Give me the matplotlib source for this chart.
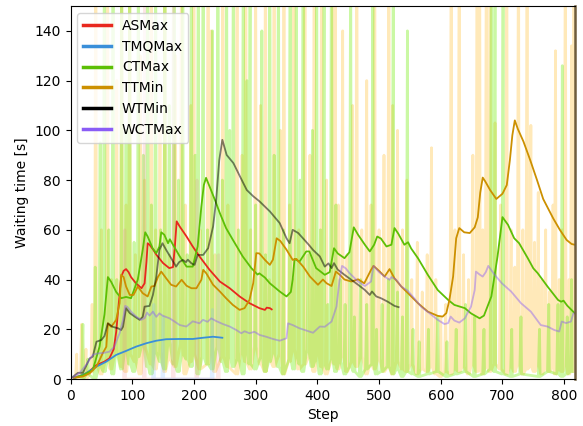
import numpy as np
import matplotlib
matplotlib.use("Agg")
import matplotlib.pyplot as plt
from matplotlib.lines import Line2D

# smoothed curves
as_x = [5, 20, 30, 42, 55, 63, 70, 74, 78, 82, 86, 90, 94, 98, 106, 115, 120, 123, 125, 128, 134, 139,
        150, 160, 166, 169, 172, 177, 188, 198, 209, 225, 242, 258, 274, 290, 306, 315, 318, 323, 326]
as_y = [0.5, 1.5, 3, 5.6, 7, 8.3, 12, 19, 30, 41, 43.5, 44.2, 43, 41, 38.5, 36.5, 38.5, 47, 54.6, 54, 52, 50,
        46.6, 44.6, 45, 53, 63.4, 61.3, 57.3, 53.3, 49.3, 44, 39.2, 36.5, 33.2, 30.5, 28.5, 27.8, 28.7, 28.5, 28]

tmq_x = [6, 15, 25, 42, 58, 74, 90, 106, 123, 139, 155, 177, 198, 215, 231, 246]
tmq_y = [0.3, 1.2, 2.3, 5, 7, 9.7, 11.3, 13, 14.4, 15.4, 16, 16.1, 16.1, 16.6, 17, 16.6]

ct_x = [5, 20, 36, 47, 55, 60.5, 66, 74, 82, 90, 98, 109, 117, 121, 125, 133, 139, 144, 147, 152, 158, 161,
        166, 177, 188, 198, 206, 212, 216, 219.6, 226, 234, 242, 252, 263, 279, 293, 303, 306, 315, 323, 339,
        350, 357, 360, 363, 371, 382, 387, 398, 412, 420, 427, 433, 444, 452, 459, 466, 477, 485, 492, 497,
        503, 512, 520, 525, 531, 541, 547, 552, 563, 579, 595, 612, 622, 639, 649, 663, 670, 682, 692, 700,
        709, 719, 727, 741, 750, 757, 773, 790, 795, 799, 805, 817]
ct_y = [0.5, 1.5, 3.6, 13, 26, 41, 39, 35, 32.5, 33, 32.5, 40, 52, 59, 57.3, 52.6, 50.6, 53.3, 59, 58, 54.6, 56.2,
        54, 49.3, 45.2, 45.2, 53.3, 69.4, 78, 80.9, 77, 72, 66.7, 60.7, 56, 49.3, 44.6, 42, 42.5, 40.8, 38.5, 35.2,
        33.2, 35, 40, 48.3, 47.2, 51.3, 51.3, 44.6, 41.9, 43, 52.6, 50.5, 48.6, 51, 61, 58, 54, 51.3, 54, 57.3,
        56.5, 53.3, 54, 60.7, 58.5, 54, 55, 52.5, 48.6, 41.9, 35.8, 31.8, 29.8, 28.5, 26.4, 24.4, 25.5, 33.2, 49.3, 65.1,
        62, 56.6, 54.6, 48.6, 44.5, 42.6, 37.2, 31.8, 31.1, 31.5, 29.5, 26.5]

tt_x = [5, 20, 31, 42, 52, 58, 60.5, 66, 74, 79.5, 82, 86, 90, 96, 102, 109, 117, 125, 131, 136, 142, 147,
        155, 163, 171, 180, 188, 196, 204, 212, 215, 220, 231, 242, 252, 263, 274, 282, 290, 296, 301, 306,
        315, 323, 328, 334, 340, 350, 360, 366, 377, 388, 401, 409, 415, 423, 430, 436, 444, 455, 466, 476,
        487, 491, 500, 509, 517, 525, 536, 547, 563, 579, 595, 603, 609, 614, 620, 625, 630, 638, 647, 655,
        660, 664, 668, 672, 680, 690, 700, 707, 712, 716, 720, 725, 734, 745, 756, 766, 782, 793, 804, 812, 817]
tt_y = [0.5, 1, 2.3, 5, 10.3, 13, 22.4, 21, 23.8, 30.5, 41.9, 41, 37.2, 33.8, 33.8, 37.2, 34.5, 33.2, 37.2, 37.4, 41.2, 43.2,
        40.5, 37.9, 37.2, 39.9, 37.5, 36.5, 36.5, 39.9, 43.9, 42.5, 37.9, 35.2, 32.5, 29.8, 27.8, 28.5, 31.8, 38.5, 50.6, 50.5,
        47.9, 45.9, 48, 56.6, 55.5, 52, 47.9, 48.3, 45.2, 41.2, 37.9, 40, 38.5, 37.4, 43.2, 42, 40, 39.2, 40.1, 38.5,
        43.9, 45.5, 43.5, 41.2, 44.2, 40.5, 37.2, 34.5, 30.5, 27.1, 25.4, 25.1, 26.5, 31.8, 41.2, 56.6, 60.7, 59, 58.7, 61,
        65, 75, 81, 79.5, 76, 72.4, 74.5, 78, 88, 98, 104, 100.5, 95.5, 88, 80, 72.4, 64.7, 60, 55.9, 54.3, 54]

wt_x = [3.8, 12, 20, 31, 36, 42, 50, 55, 60.5, 68, 77, 82, 85, 90, 96, 104, 112, 117, 120, 128, 133.5, 139,
        144, 149, 155, 163, 171, 176, 182, 187, 190, 196, 201, 206, 215, 223, 231, 236, 241, 246, 253, 264,
        274.7, 285.6, 296, 306, 323, 339, 350, 355, 360, 369, 377, 386, 393, 404, 412, 418, 423, 427, 433,
        444, 455, 466, 477, 485, 488.5, 495.5, 503, 514, 525, 531.7]
wt_y = [0.9, 2.5, 2.5, 8.3, 9, 15, 15.7, 17.3, 22.4, 21, 20.4, 19.7, 21, 28.5, 26.5, 25.1, 23.8, 25, 29.1, 29.4, 33.8, 41.2,
        51.9, 54.6, 51.9, 48.6, 45.2, 47, 47.9, 47, 48, 46.5, 45.9, 49.9, 49.9, 52.6, 61.3, 72, 88, 96.2, 90.1, 86.8,
        81.4, 76, 73.5, 71.5, 67.4, 62.7, 56.6, 54.6, 60, 58.7, 56.5, 54, 51.9, 49.3, 45.2, 46.5, 44.6, 46.6, 44,
        41.9, 39.9, 37.9, 35.8, 33.8, 35.2, 33.2, 32.5, 31.1, 29.4, 28.9]

wct_x = [4, 15, 25, 36, 44, 54, 63, 71, 79.5, 85, 88.6, 92, 98, 106.5, 114.6, 120, 124, 128, 133.5, 139, 144, 149,
         160.5, 168.6, 177, 187.6, 195.7, 198, 209, 214.6, 222, 228, 236, 247, 258, 268.6, 276.8, 282, 290, 298,
         306.5, 317, 328, 339, 350, 352.4, 360, 371, 382, 393, 404, 412, 423, 431, 436, 440, 446, 452, 466, 477,
         487, 491, 500, 509, 517, 520, 528, 536, 546, 557, 568, 585, 595, 606, 612, 616, 622, 630, 639, 649, 655,
         657, 663, 668, 673, 677, 687, 699, 714, 730, 746, 762, 773, 784, 792, 796, 803, 811, 815, 817]
wct_y = [0.5, 2.5, 5.6, 9.7, 10.3, 10.5, 11, 13, 18.4, 23.8, 29.4, 29, 27.1, 25.1, 23.8, 24.5, 26.7, 25.5, 27.1, 25, 26.4, 25.5,
         24.4, 23.1, 21.7, 21.1, 22.7, 23.2, 22.4, 23.8, 23, 24.4, 23.3, 22.1, 21.1, 19.7, 18.4, 19.2, 18.4, 19,
         17.7, 17, 16.1, 15.4, 16.4, 22.4, 21.7, 20.4, 19.5, 18.6, 21.1, 21, 23.1, 29.1, 39.9, 45.5, 44.5, 42.6, 39.2, 37.4,
         39.2, 45.5, 43, 41.2, 39.9, 41, 39.9, 37.2, 35.6, 32.5, 29.1, 25.8, 23.8, 22.1, 22.5, 25.1, 23.5, 22.7, 24.4, 29.1, 35.8,
         43.2, 42, 41.2, 43, 45.5, 42, 38.5, 35.2, 30.5, 27.1, 21.7, 21.1, 19.7, 19.1, 23.1, 22.5, 23.1, 26.4, 26.4]

# raw (unsmoothed) spikes: step, peak value, value it falls back to
ct_raw_steps = [20, 28, 40, 48, 55, 62, 69, 75, 83, 90, 96, 103, 110, 118, 125, 131, 138, 146, 153, 160, 168,
                175, 182, 189, 196, 202, 207, 215, 222, 230, 239, 246, 253, 258, 264, 272, 280, 286, 291, 300,
                310, 316, 323, 330, 337, 345, 356, 362, 366, 372, 377, 385, 392, 399, 405, 411, 417, 423, 430,
                437, 445, 454, 460, 470, 480, 490, 496, 505, 515, 523, 530, 538, 546, 555, 565, 580, 595, 610,
                625, 640, 655, 670, 682, 688, 701, 715, 730, 760, 775, 790, 797, 805, 812]
ct_raw_peaks = [22, 8, 45, 95, 200, 60, 200, 40, 170, 100, 160, 55, 180, 90, 200, 70, 180, 60, 170, 110, 190,
                80, 160, 50, 200, 90, 180, 210, 60, 140, 200, 80, 180, 100, 200, 60, 190, 120, 170, 70,
                140, 50, 200, 90, 190, 60, 200, 40, 180, 80, 200, 50, 100, 170, 60, 180, 30, 200, 70,
                40, 30, 180, 25, 40, 30, 170, 20, 30, 40, 170, 35, 25, 140, 20, 15, 20, 25, 15,
                20, 30, 25, 20, 160, 180, 170, 20, 25, 20, 30, 30, 126, 25, 40]
ct_raw_lows = [0, 2, 0, 5, 3, 8, 2, 10, 4, 12, 6, 3, 9, 14, 5, 2, 11, 7, 4, 15, 6,
               3, 10, 8, 5, 12, 2, 9, 6, 4, 13, 7, 3, 10, 5, 8, 2, 12, 6, 4,
               9, 3, 7, 11, 5, 2, 8, 4, 10, 6, 3, 12, 5, 8, 2, 6, 4, 9, 3,
               7, 2, 5, 3, 1, 4, 6, 2, 3, 5, 2, 4, 1, 3, 2, 1, 2, 3, 1,
               2, 3, 1, 2, 4, 3, 2, 1, 2, 1, 3, 2, 1, 2, 3]

tt_raw_steps = [10, 18, 25, 35, 41, 50, 60, 66, 75, 83, 90, 96, 105, 113, 120, 131, 138, 145, 153, 160, 170,
                180, 186, 195, 200, 210, 223, 228, 234, 247, 255, 270, 278, 284, 292, 300, 308, 316, 322, 330,
                340, 346, 355, 362, 370, 380, 388, 395, 401, 407, 415, 425, 429, 434, 441, 448, 457, 464, 472,
                480, 487, 493, 500, 508, 516, 522, 530, 538, 545, 553, 562, 570, 578, 585, 592, 600, 608, 617,
                623, 630, 637, 645, 652, 659, 663, 668, 674, 680, 688, 697, 707, 714, 720, 726, 733, 740, 746,
                752, 758, 764, 770, 776, 782, 786, 792, 797, 802, 808, 812, 816]
tt_raw_peaks = [10, 22, 12, 30, 200, 60, 200, 40, 120, 200, 70, 190, 50, 130, 80, 200, 60, 100, 200, 50, 130,
                200, 70, 110, 200, 60, 200, 140, 50, 200, 70, 200, 90, 200, 60, 180, 110, 200, 40, 200,
                100, 200, 70, 200, 60, 200, 90, 200, 50, 200, 80, 200, 200, 70, 140, 50, 110, 200, 60,
                120, 70, 200, 60, 90, 200, 110, 100, 60, 80, 40, 55, 35, 50, 93, 40, 25, 30, 200,
                60, 200, 50, 40, 90, 200, 200, 60, 200, 200, 103, 70, 200, 60, 45, 200, 60, 200, 102,
                55, 75, 40, 60, 35, 70, 132, 40, 60, 200, 40, 134, 200]
tt_raw_lows = [0, 1, 0, 3, 6, 2, 9, 4, 12, 5, 3, 10, 7, 2, 13, 6, 4, 11, 3, 8, 5,
               14, 2, 7, 10, 4, 6, 12, 3, 9, 5, 2, 11, 7, 4, 13, 6, 3, 8, 5,
               10, 2, 7, 12, 4, 6, 9, 3, 11, 5, 2, 8, 6, 4, 10, 3, 7, 5, 9,
               2, 6, 4, 8, 3, 5, 2, 7, 4, 3, 6, 2, 4, 3, 5, 2, 1, 3, 2,
               4, 3, 5, 2, 6, 3, 4, 2, 5, 3, 6, 4, 2, 5, 3, 6, 2, 4, 5,
               3, 6, 2, 4, 3, 5, 2, 4, 3, 6, 2, 4, 3]

as_raw_steps = [88, 120, 167, 205, 240]
as_raw_peaks = [60, 160, 200, 80, 50]
tmq_raw_steps = [135, 150, 230]
tmq_raw_peaks = [30, 25, 28]

labels = ["ASMax", "TMQMax", "CTMax", "TTMin", "WTMin", "WCTMax"]
colors = ["#e8281e", "#3a8fd9", "#5cbf05", "#cc9000", "#000000", "#8a5cf5"]


def spikes(steps, peaks, lows=None, rise=2):
    if lows is None:
        lows = [0] * len(steps)
    xs, ys = [], []
    for s, p, lo in zip(steps, peaks, lows):
        xs += [s - rise, s, s + 1]
        ys += [lo, p, lo]
    return xs, ys


fig = plt.figure(figsize=(5.83, 4.26), dpi=100)
ax = fig.add_axes([0.121, 0.1103, 0.8647, 0.8756])

# raw data in the background
x, y = spikes(tt_raw_steps, tt_raw_peaks, tt_raw_lows)
ax.plot(x, y, color="#ffc037", alpha=0.35, lw=2)
x, y = spikes(ct_raw_steps, ct_raw_peaks, ct_raw_lows)
ax.plot(x, y, color="#75ed11", alpha=0.38, lw=2)
x, y = spikes(as_raw_steps, as_raw_peaks)
ax.plot(x, y, color="#f08080", alpha=0.2, lw=2)
x, y = spikes(tmq_raw_steps, tmq_raw_peaks)
ax.plot(x, y, color="#80b8ff", alpha=0.25, lw=2)

# smoothed
ax.plot(as_x, as_y, color=colors[0], lw=1.3)
ax.plot(tmq_x, tmq_y, color=colors[1], lw=1.3)
ax.plot(ct_x, ct_y, color=colors[2], lw=1.3)
ax.plot(tt_x, tt_y, color=colors[3], lw=1.3)
ax.plot(wt_x, wt_y, color=colors[4], alpha=0.5, lw=1.3)
ax.plot(wct_x, wct_y, color=colors[5], alpha=0.45, lw=1.3)

handles = [Line2D([0], [0], color=c, lw=2.5) for c in colors]
ax.legend(handles, labels, loc="upper left")

ax.set_xlim(0, 817)
ax.set_ylim(0, 150)
ax.set_xticks(np.arange(0, 801, 100))
ax.set_yticks(np.arange(0, 141, 20))
ax.set_xlabel("Step")
ax.set_ylabel("Waiting time [s]")
ax.spines["right"].set_color("#6e5c3c")
ax.spines["right"].set_linewidth(1.8)

fig.savefig("out.png", dpi=100)
